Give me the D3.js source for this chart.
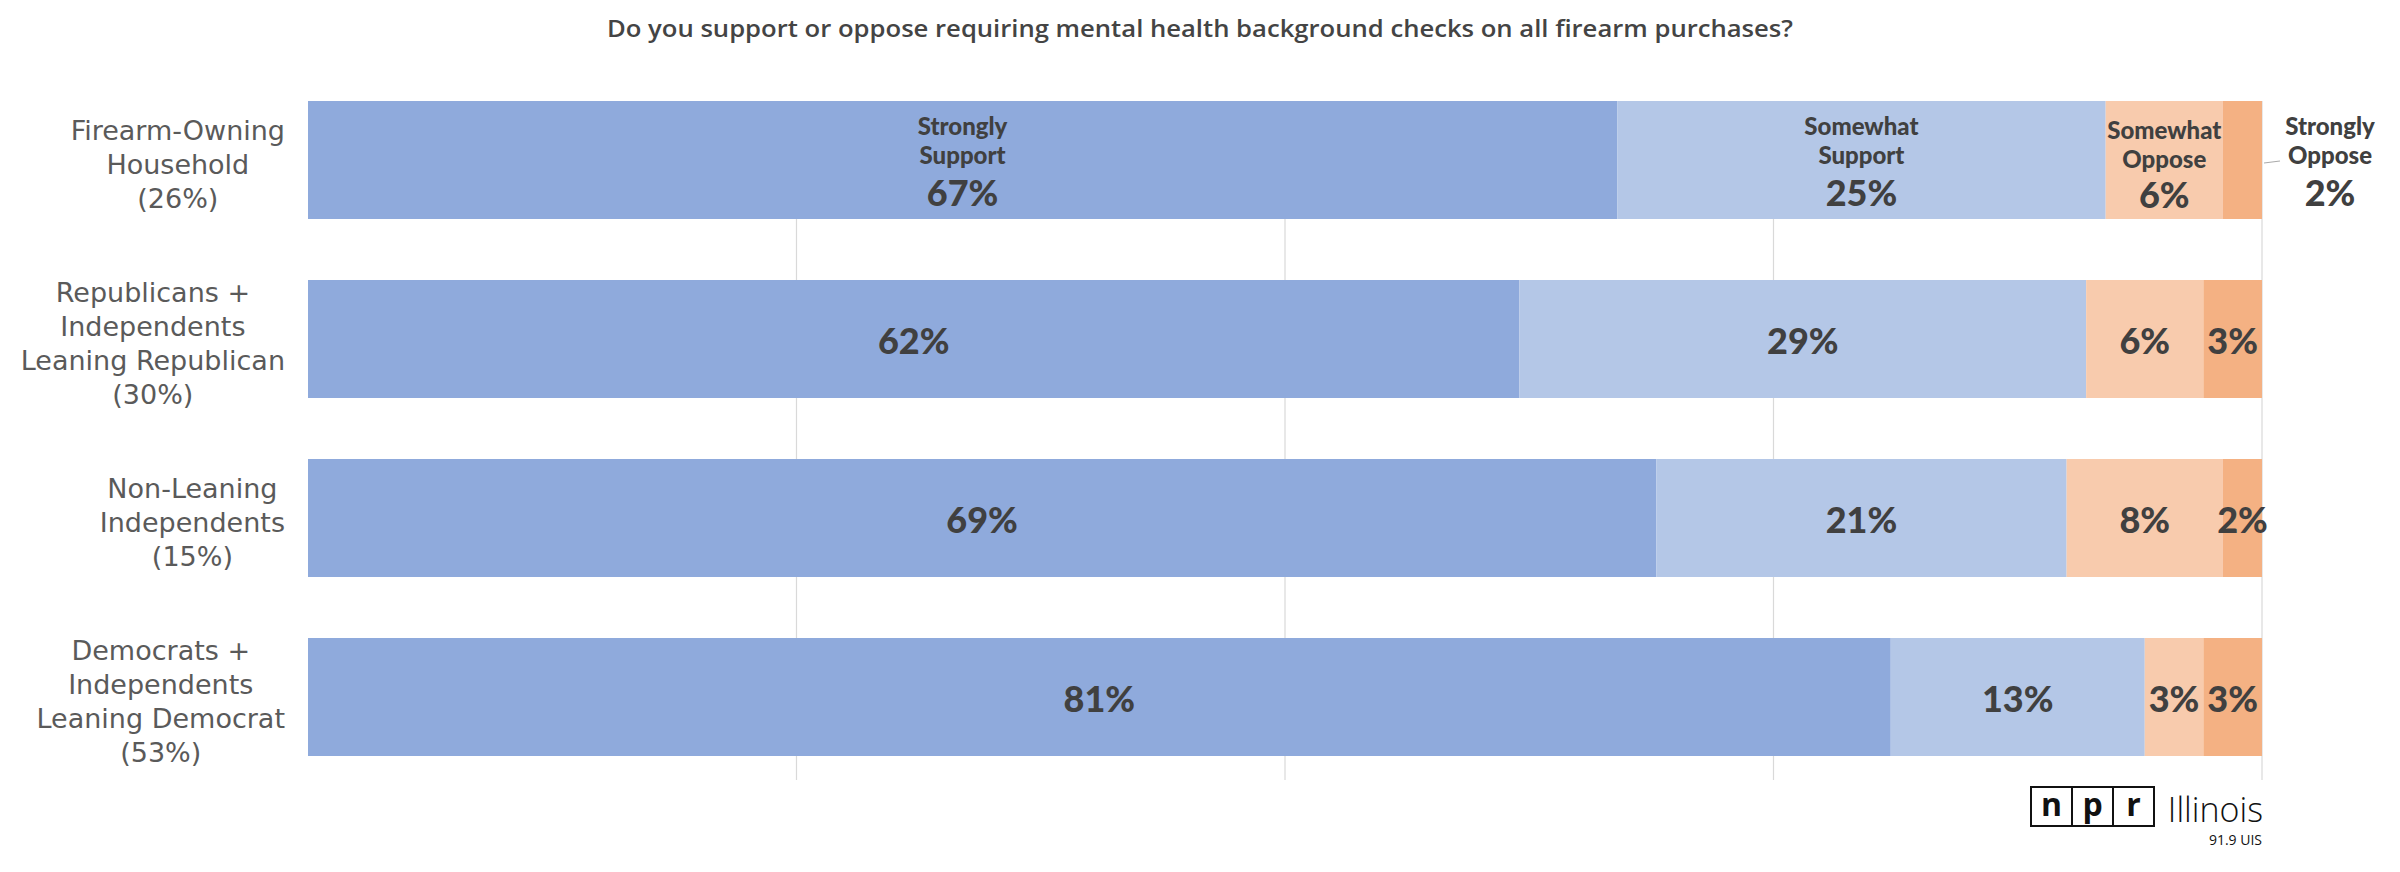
<!DOCTYPE html>
<html>
<head>
<meta charset="utf-8">
<script src="https://cdn.jsdelivr.net/npm/d3@7"></script>
<style>
  html, body { margin: 0; padding: 0; background: #ffffff; }
  svg { display: block; }
</style>
</head>
<body>
<svg id="chart" width="2400" height="872"></svg>
<script>
// ---- data ----
const groups = ["Firearm-Owning Household", "Republicans + Independents Leaning Republican", "Non-Leaning Independents", "Democrats + Independents Leaning Democrat"];
const groupLabelLines = [
  ["Firearm-Owning", "Household", "(26%)"],
  ["Republicans +", "Independents", "Leaning Republican", "(30%)"],
  ["Non-Leaning", "Independents", "(15%)"],
  ["Democrats +", "Independents", "Leaning Democrat", "(53%)"]
];
const seriesNames = ["Strongly Support", "Somewhat Support", "Somewhat Oppose", "Strongly Oppose"];
const seriesLabelLines = [["Strongly", "Support"], ["Somewhat", "Support"], ["Somewhat", "Oppose"], ["Strongly", "Oppose"]];
const stronglySupport = [67, 62, 69, 81];
const somewhatSupport = [25, 29, 21, 13];
const somewhatOppose  = [6, 6, 8, 3];
const stronglyOppose  = [2, 3, 2, 3];
const gridTicks = [25, 50, 75, 100];
const titleText = "Do you support or oppose requiring mental health background checks on all firearm purchases?";

const colors = ["#8FAADC", "#B4C7E7", "#F8CBAD", "#F4B183"];
const seriesValues = [stronglySupport, somewhatSupport, somewhatOppose, stronglyOppose];

const svg = d3.select("#chart");
const x = d3.scaleLinear().domain([0, 100]).range([308, 2262]);
const y = d3.scaleBand().domain(groups).range([101, 101 + 4 * 179 - 61]).paddingInner(61 / 179).paddingOuter(0);

// rows for stacking
const rows = groups.map((g, i) => {
  const r = { group: g };
  seriesNames.forEach((s, j) => r[s] = seriesValues[j][i]);
  return r;
});
const stacked = d3.stack().keys(seriesNames)(rows);

// title
svg.append("text")
  .attr("x", 1200).attr("y", 37)
  .attr("text-anchor", "middle")
  .attr("font-family", "'Open Sans', sans-serif")
  .attr("font-weight", 600)
  .attr("font-size", 24)
  .attr("fill", "#444")
  .attr("textLength", 1186)
  .attr("lengthAdjust", "spacingAndGlyphs")
  .text(titleText);

// gridlines
svg.append("g").selectAll("line").data(gridTicks).join("line")
  .attr("x1", d => x(d)).attr("x2", d => x(d))
  .attr("y1", y.range()[0]).attr("y2", y.range()[1] + 24)
  .attr("stroke", "#d9d9d9").attr("stroke-width", 1.2);

// bars
stacked.forEach((layer, j) => {
  svg.append("g").attr("fill", colors[j])
    .selectAll("rect").data(layer).join("rect")
    .attr("x", d => x(d[0]))
    .attr("y", d => y(d.data.group))
    .attr("width", d => x(d[1]) - x(d[0]))
    .attr("height", y.bandwidth());
});

// value labels
const labFont = "Lato, 'Open Sans', sans-serif";
stacked.forEach((layer, j) => {
  layer.forEach((d, i) => {
    const cx = (x(d[0]) + x(d[1])) / 2;
    const cy = y(d.data.group) + y.bandwidth() / 2;
    const val = d[1] - d[0];
    if (i === 0) {
      let tx = cx;
      if (j === 3) {
        tx = 2330;
        svg.append("line")
          .attr("x1", x(100) + 2).attr("y1", cy + 3)
          .attr("x2", x(100) + 18).attr("y2", cy + 1)
          .attr("stroke", "#aaa").attr("stroke-width", 1.2);
      }
      const dy0 = (j === 2) ? 4 : 0;
      seriesLabelLines[j].forEach((ln, k) => {
        svg.append("text")
          .attr("x", tx).attr("y", cy - 25 + k * 29 + dy0)
          .attr("text-anchor", "middle")
          .attr("font-family", labFont)
          .attr("font-weight", 900)
          .attr("font-size", 24)
          .attr("fill", "#404040")
          .text(ln);
      });
      svg.append("text")
        .attr("x", tx).attr("y", cy + 46 + dy0 * 0.5)
        .attr("text-anchor", "middle")
        .attr("font-family", labFont)
        .attr("font-weight", 900)
        .attr("font-size", 36)
        .attr("fill", "#404040")
        .text(val + "%");
    } else {
      svg.append("text")
        .attr("x", cx).attr("y", cy)
        .attr("dy", "0.42em")
        .attr("text-anchor", "middle")
        .attr("font-family", labFont)
        .attr("font-weight", 900)
        .attr("font-size", 36)
        .attr("fill", "#404040")
        .text(val + "%");
    }
  });
});

// group labels (centered block, right-aligned as a whole)
const labelRight = 285;
const lineH = 34;
groups.forEach((g, i) => {
  const lines = groupLabelLines[i];
  const cy = y(g) + y.bandwidth() / 2 + 4;
  const gEl = svg.append("g");
  const texts = lines.map((ln, k) => gEl.append("text")
    .attr("y", cy + (k - (lines.length - 1) / 2) * lineH)
    .attr("dy", "0.36em")
    .attr("text-anchor", "middle")
    .attr("font-family", "'DejaVu Sans', sans-serif")
    .attr("font-weight", 400)
    .attr("font-size", 27)
    .attr("fill", "#5a5a5a")
    .text(ln));
  const maxW = d3.max(texts, t => t.node().getComputedTextLength());
  texts.forEach(t => t.attr("x", labelRight - maxW / 2));
});

// logo
const logo = svg.append("g");
const bx = 2031, by = 787, bw = 41, bh = 39;
["n", "p", "r"].forEach((c, k) => {
  logo.append("rect").attr("x", bx + k * bw).attr("y", by).attr("width", bw).attr("height", bh)
    .attr("fill", "#fff").attr("stroke", "#111").attr("stroke-width", 2);
  logo.append("text").attr("x", bx + k * bw + bw / 2).attr("y", by + 29)
    .attr("text-anchor", "middle")
    .attr("font-family", "'Open Sans', sans-serif").attr("font-weight", 700)
    .attr("font-size", 32).attr("fill", "#111").text(c);
});
logo.append("text").attr("x", 2263).attr("y", 822).attr("text-anchor", "end")
  .attr("font-family", "'Open Sans', sans-serif").attr("font-weight", 300)
  .attr("font-size", 34).attr("fill", "#111").text("Illinois");
logo.append("text").attr("x", 2262).attr("y", 845).attr("text-anchor", "end")
  .attr("font-family", "'Open Sans', sans-serif").attr("font-weight", 400)
  .attr("font-size", 14).attr("fill", "#111").text("91.9 UIS");
</script>
</body>
</html>
